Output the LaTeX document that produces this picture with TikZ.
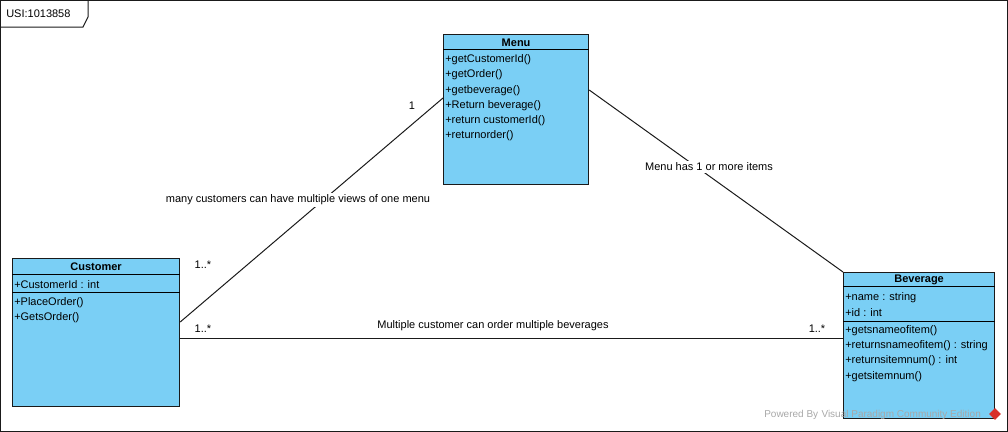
\documentclass[tikz,border=0pt]{standalone}
\usepackage{fontspec}
\setmainfont{Liberation Sans}
\usetikzlibrary{calc,shapes.geometric}
\definecolor{ClassBlue}{HTML}{7ACFF5}
\definecolor{EdgeDark}{HTML}{1A1A1A}
\definecolor{MarkGray}{HTML}{A8A8A8}
\definecolor{MarkRed}{HTML}{D8302A}

\begin{document}
\begin{tikzpicture}[x=0.75pt, y=-0.75pt,
  font=\fontsize{8.25}{10}\selectfont,
  classbox/.style={draw=EdgeDark,fill=ClassBlue,line width=0.9pt,anchor=north west,inner sep=0pt},
  member/.style={anchor=west,inner sep=0pt,yshift=-1pt},
  title/.style={font=\fontsize{8.25}{10}\selectfont\bfseries,inner sep=0pt,yshift=-0.5pt},
  assoc/.style={fill=white,inner sep=1.5pt},
  link/.style={draw=EdgeDark,line width=0.75pt}]
  \useasboundingbox (0,0) rectangle (1008,432);
  \draw[EdgeDark,line width=0.75pt] (0.5,0.5) rectangle (1007.5,431.5);
  \draw[EdgeDark,line width=0.75pt] (0,27) -- (83,27) -- (88,17) -- (88,0);
  \node[anchor=west,inner sep=0pt] (frametag) at (6,14) {USI:1013858};

  \node[classbox,minimum width=108.75pt,minimum height=112.5pt] (menu) at (443,34) {};
  \node[title] (menuname) at ($(menu.north)+(0,8)$) {Menu};
  \draw[line width=0.75pt] ($(menu.north west)+(0,15)$) -- ($(menu.north east)+(0,15)$);
  \node[member] (m1) at ($(menu.north west)+(2,24)$) {+getCustomerId()};
  \node[member] (m2) at ($(menu.north west)+(2,39)$) {+getOrder()};
  \node[member] (m3) at ($(menu.north west)+(2,55)$) {+getbeverage()};
  \node[member] (m4) at ($(menu.north west)+(2,70)$) {+Return beverage()};
  \node[member] (m5) at ($(menu.north west)+(2,85)$) {+return customerId()};
  \node[member] (m6) at ($(menu.north west)+(2,100)$) {+returnorder()};

  \node[classbox,minimum width=125.25pt,minimum height=111pt] (cust) at (12,258) {};
  \node[title] (custname) at ($(cust.north)+(0,8)$) {Customer};
  \draw[line width=0.75pt] ($(cust.north west)+(0,16)$) -- ($(cust.north east)+(0,16)$);
  \node[member] (c1) at ($(cust.north west)+(2,25)$) {+CustomerId : int};
  \draw[line width=0.75pt] ($(cust.north west)+(0,34)$) -- ($(cust.north east)+(0,34)$);
  \node[member] (c2) at ($(cust.north west)+(2,43)$) {+PlaceOrder()};
  \node[member] (c3) at ($(cust.north west)+(2,58)$) {+GetsOrder()};

  \node[classbox,minimum width=113.25pt,minimum height=109.5pt] (bev) at (843,272) {};
  \node[title] (bevname) at ($(bev.north)+(0,7)$) {Beverage};
  \draw[line width=0.75pt] ($(bev.north west)+(0,14)$) -- ($(bev.north east)+(0,14)$);
  \node[member] (b1) at ($(bev.north west)+(2,24)$) {+name : string};
  \node[member] (b2) at ($(bev.north west)+(2,39)$) {+id : int};
  \draw[line width=0.75pt] ($(bev.north west)+(0,49)$) -- ($(bev.north east)+(0,49)$);
  \node[member] (b3) at ($(bev.north west)+(2,57)$) {+getsnameofitem()};
  \node[member] (b4) at ($(bev.north west)+(2,72)$) {+returnsnameofitem() : string};
  \node[member] (b5) at ($(bev.north west)+(2,87)$) {+returnsitemnum() : int};
  \node[member] (b6) at ($(bev.north west)+(2,103)$) {+getsitemnum()};

  \draw[link] ($(cust.north east)+(0,64)$) -- ($(menu.north west)+(0,64)$);
  \draw[link] ($(menu.north east)+(0,56)$) -- (bev.north west);
  \draw[link] ($(cust.north east)+(0,80)$) -- ($(bev.north west)+(0,66)$);

  \node[assoc] (views) at (298,200) {many customers can have multiple views of one menu};
  \node[assoc] (items) at (709,167) {Menu has 1 or more items};
  \node[assoc] (orders) at (493,326) {Multiple customer can order multiple beverages};
  \node[inner sep=0pt] (menuone) at (412,106) {1};
  \node[inner sep=0pt] (custmany) at (203,265) {1..*};
  \node[inner sep=0pt] (custorder) at (203,329) {1..*};
  \node[inner sep=0pt] (bevorder) at (817,329) {1..*};

  \node[anchor=west,inner sep=0pt,text=MarkGray,font=\fontsize{7.5}{9}\selectfont] (powered) at (764,415) {Powered By\,\,Visual Paradigm Community Edition};
  \node[diamond,fill=MarkRed,minimum size=9pt,inner sep=0pt] (vplogo) at (995,414) {};
\end{tikzpicture}
\end{document}
